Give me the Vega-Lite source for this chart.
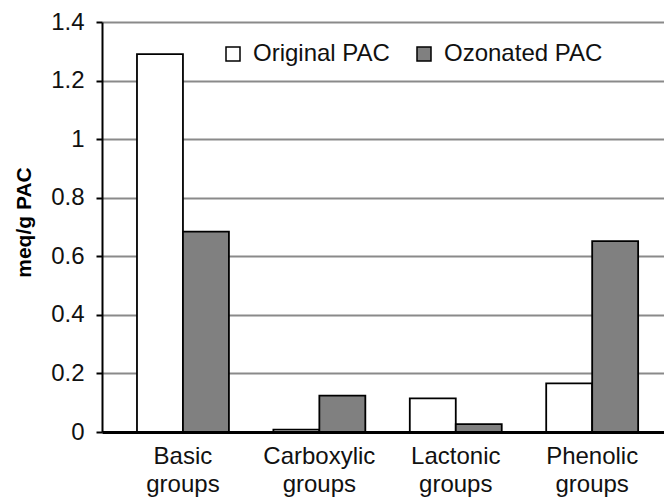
{
  "$schema": "https://vega.github.io/schema/vega-lite/v6.json",
  "width": 562,
  "height": 410,
  "autosize": {"type": "none"},
  "padding": {"left": 102, "top": 22, "right": 0, "bottom": 67},
  "background": "#ffffff",
  "config": {
    "view": {"stroke": null},
    "font": "Liberation Sans",
    "text": {"font": "Liberation Sans"}
  },
  "data": {
    "values": [
      {"group": "Basic groups", "series": "Original PAC", "value": 1.29},
      {"group": "Basic groups", "series": "Ozonated PAC", "value": 0.684},
      {"group": "Carboxylic groups", "series": "Original PAC", "value": 0.008},
      {"group": "Carboxylic groups", "series": "Ozonated PAC", "value": 0.124},
      {"group": "Lactonic groups", "series": "Original PAC", "value": 0.115},
      {"group": "Lactonic groups", "series": "Ozonated PAC", "value": 0.027},
      {"group": "Phenolic groups", "series": "Original PAC", "value": 0.166},
      {"group": "Phenolic groups", "series": "Ozonated PAC", "value": 0.652}
    ]
  },
  "mark": {"type": "bar", "stroke": "#000000", "strokeWidth": 1.8},
  "encoding": {
    "x": {
      "field": "group",
      "type": "nominal",
      "sort": ["Basic groups", "Carboxylic groups", "Lactonic groups", "Phenolic groups"],
      "scale": {"paddingInner": 0.326, "paddingOuter": 0.223, "align": 0.575},
      "axis": {
        "title": null,
        "labelAngle": 0,
        "ticks": false,
        "domainColor": "#000000",
        "domainWidth": 3,
        "labelExpr": "split(datum.label, ' ')",
        "labelFont": "Liberation Sans",
        "labelFontSize": 24,
        "labelColor": "#111111",
        "labelLineHeight": 28,
        "labelPadding": 12,
        "labelBaseline": "top"
      }
    },
    "xOffset": {
      "field": "series",
      "type": "nominal",
      "scale": {"paddingInner": 0, "paddingOuter": 0}
    },
    "y": {
      "field": "value",
      "type": "quantitative",
      "scale": {"domain": [0, 1.4], "nice": false},
      "axis": {
        "values": [0, 0.2, 0.4, 0.6, 0.8, 1, 1.2, 1.4],
        "format": ".1~f",
        "title": "meq/g PAC",
        "titleFont": "Liberation Sans",
        "titleFontSize": 21,
        "titleFontWeight": "bold",
        "titleColor": "#000000",
        "titleAngle": -90,
        "titleAlign": "center",
        "titleBaseline": "middle",
        "titleX": -78,
        "titleY": 200,
        "labelFont": "Liberation Sans",
        "labelFontSize": 24,
        "labelColor": "#111111",
        "labelPadding": 12,
        "domainColor": "#000000",
        "domainWidth": 2,
        "tickColor": "#000000",
        "tickWidth": 2,
        "tickSize": 6,
        "grid": true,
        "gridColor": "#8a8a8a",
        "gridWidth": 2
      }
    },
    "fill": {
      "field": "series",
      "type": "nominal",
      "scale": {"domain": ["Original PAC", "Ozonated PAC"], "range": ["#ffffff", "#808080"]},
      "legend": {
        "title": null,
        "orient": "none",
        "direction": "horizontal",
        "legendX": 119,
        "legendY": 20,
        "padding": 0,
        "symbolType": "square",
        "symbolSize": 196,
        "symbolStrokeColor": "#000000",
        "symbolStrokeWidth": 1.5,
        "labelFont": "Liberation Sans",
        "labelFontSize": 24,
        "labelColor": "#111111",
        "labelOffset": 8,
        "columnPadding": 22
      }
    }
  }
}
